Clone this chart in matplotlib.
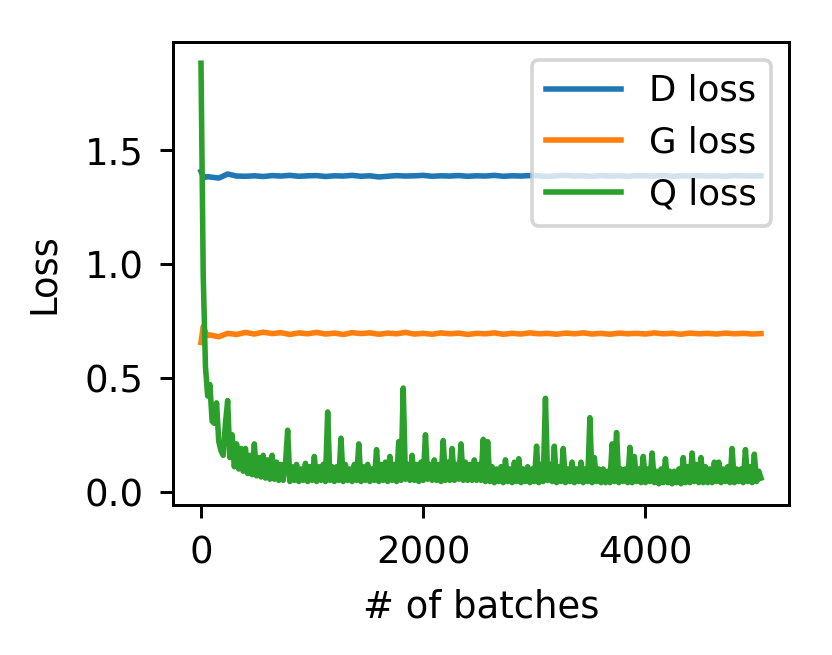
import numpy as np
import matplotlib
matplotlib.use("Agg")
import matplotlib.pyplot as plt

# batches for Q loss (every 20 batches)
q_batches = np.arange(0, 5041, 20)
q_loss = [
    1.88, 0.95, 0.55, 0.42, 0.47, 0.31, 0.30, 0.39, 0.22, 0.18,
    0.16, 0.30, 0.40, 0.15, 0.25, 0.11, 0.21, 0.10, 0.19, 0.09,
    0.19, 0.08, 0.16, 0.075, 0.21, 0.07, 0.15, 0.065, 0.16, 0.06,
    0.14, 0.055, 0.16, 0.055, 0.13, 0.05, 0.12, 0.05, 0.12, 0.27,
    0.045, 0.11, 0.05, 0.12, 0.045, 0.10, 0.05, 0.125, 0.045, 0.11,
    0.05, 0.155, 0.045, 0.11, 0.05, 0.12, 0.045, 0.35, 0.05, 0.11,
    0.045, 0.11, 0.05, 0.235, 0.045, 0.12, 0.05, 0.10, 0.045, 0.12,
    0.05, 0.21, 0.045, 0.11, 0.05, 0.12, 0.045, 0.10, 0.05, 0.185,
    0.045, 0.12, 0.05, 0.13, 0.045, 0.155, 0.05, 0.12, 0.045, 0.22,
    0.05, 0.455, 0.055, 0.12, 0.05, 0.16, 0.05, 0.12, 0.045, 0.13,
    0.05, 0.25, 0.055, 0.12, 0.05, 0.14, 0.05, 0.12, 0.045, 0.225,
    0.05, 0.13, 0.05, 0.19, 0.05, 0.12, 0.055, 0.21, 0.05, 0.13,
    0.05, 0.12, 0.05, 0.14, 0.05, 0.12, 0.05, 0.23, 0.045, 0.22,
    0.045, 0.11, 0.04, 0.10, 0.045, 0.11, 0.04, 0.14, 0.045, 0.10,
    0.04, 0.13, 0.045, 0.145, 0.04, 0.10, 0.045, 0.11, 0.04, 0.10,
    0.045, 0.20, 0.04, 0.12, 0.045, 0.41, 0.05, 0.12, 0.045, 0.20,
    0.04, 0.11, 0.045, 0.19, 0.04, 0.10, 0.045, 0.13, 0.04, 0.10,
    0.045, 0.13, 0.04, 0.10, 0.045, 0.325, 0.04, 0.15, 0.045, 0.10,
    0.04, 0.10, 0.04, 0.09, 0.04, 0.21, 0.045, 0.26, 0.04, 0.10,
    0.045, 0.10, 0.04, 0.195, 0.04, 0.155, 0.045, 0.10, 0.04, 0.155,
    0.04, 0.10, 0.045, 0.17, 0.04, 0.09, 0.035, 0.10, 0.04, 0.145,
    0.04, 0.09, 0.035, 0.09, 0.04, 0.10, 0.035, 0.15, 0.04, 0.11,
    0.04, 0.17, 0.045, 0.12, 0.04, 0.15, 0.04, 0.11, 0.04, 0.10,
    0.04, 0.13, 0.045, 0.13, 0.04, 0.10, 0.045, 0.11, 0.04, 0.19,
    0.04, 0.10, 0.045, 0.10, 0.04, 0.185, 0.045, 0.11, 0.04, 0.165,
    0.045, 0.09, 0.06,
]

# batches for D and G loss
dg_batches = np.r_[0:80:20, 80:5041:80]
d_loss = [
    1.405, 1.383, 1.380, 1.382,
    1.381, 1.376, 1.394, 1.385, 1.384, 1.386, 1.383, 1.387, 1.385, 1.388,
    1.384, 1.386, 1.387, 1.383, 1.386, 1.385, 1.388, 1.384, 1.386, 1.381,
    1.384, 1.387, 1.385, 1.386, 1.388, 1.384, 1.386, 1.385, 1.387, 1.384,
    1.386, 1.385, 1.388, 1.384, 1.386, 1.385, 1.387, 1.386, 1.383, 1.386,
    1.388, 1.385, 1.386, 1.384, 1.387, 1.385, 1.386, 1.384, 1.387, 1.386,
    1.385, 1.387, 1.384, 1.386, 1.385, 1.387, 1.385, 1.386, 1.384, 1.387,
    1.386, 1.385, 1.386,
]
g_loss = [
    0.655, 0.725, 0.700, 0.685,
    0.688, 0.680, 0.695, 0.690, 0.699, 0.692, 0.700, 0.694, 0.698, 0.690,
    0.697, 0.693, 0.699, 0.692, 0.696, 0.690, 0.698, 0.694, 0.697, 0.691,
    0.696, 0.693, 0.699, 0.692, 0.695, 0.691, 0.697, 0.693, 0.696, 0.690,
    0.695, 0.693, 0.697, 0.691, 0.695, 0.692, 0.697, 0.693, 0.695, 0.691,
    0.696, 0.693, 0.697, 0.692, 0.695, 0.691, 0.696, 0.693, 0.695, 0.692,
    0.697, 0.693, 0.695, 0.691, 0.696, 0.693, 0.695, 0.692, 0.696, 0.693,
    0.695, 0.692, 0.694,
]

DPI = 266
fig = plt.figure(figsize=(832 / DPI, 655 / DPI), dpi=DPI)
ax = fig.add_axes([173 / 832, 1 - 505 / 655, (789 - 173) / 832, (505 - 42) / 655])

ax.plot(dg_batches, d_loss, label="D loss")
ax.plot(dg_batches, g_loss, label="G loss")
ax.plot(q_batches, q_loss, label="Q loss")

ax.set_ylim(-0.058, 1.973)
ax.tick_params(axis="both", pad=4.5)
ax.set_xlabel("# of batches", labelpad=4.5)
ax.set_ylabel("Loss", labelpad=6)
ax.legend(loc="upper right", fontsize=9.6, handlelength=2.1)

fig.savefig("out.png", dpi=DPI)
